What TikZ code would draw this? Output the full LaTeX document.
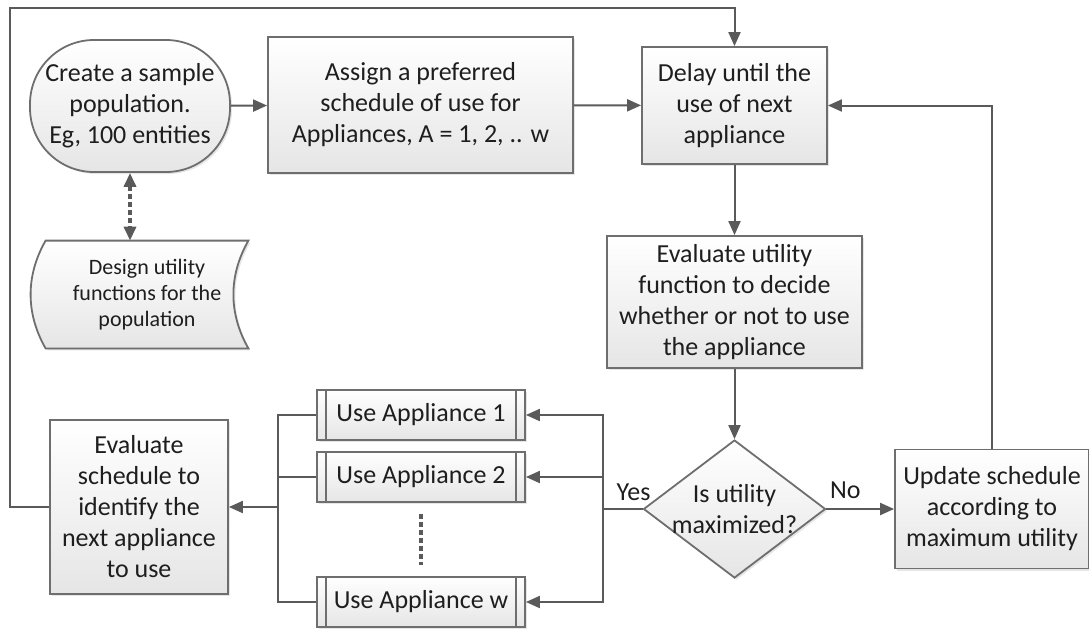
\documentclass[tikz,border=0pt]{standalone}
\usepackage{fontspec}
\setmainfont{Carlito}
\usetikzlibrary{arrows.meta,shapes.geometric,shadows,backgrounds}
\definecolor{boxgray}{HTML}{6E6E6E}
\definecolor{linegray}{HTML}{5A5A5A}
\definecolor{txtcol}{HTML}{1E1E1E}
\tikzset{
  box/.style={draw=boxgray, line width=0.9pt, top color=white, bottom color=gray!20,
    drop shadow={opacity=0.2,shadow xshift=1pt,shadow yshift=-1pt},
    align=center, inner sep=2pt, text=txtcol},
  conn/.style={draw=linegray, line width=1pt},
  arr/.style={conn, -{Triangle[length=7pt,width=6pt]}},
  dots/.style={draw=linegray, line width=1.7pt, dash pattern=on 2.5pt off 1.5pt},
  lbl/.style={inner sep=0pt, text=txtcol, anchor=base}
}
\begin{document}
\begin{tikzpicture}[x=0.5pt,y=-0.5pt,font=\fontsize{13}{15.5}\selectfont]
  \useasboundingbox (0,0) rectangle (1089,628);
  \node[box, rounded corners=32pt, minimum width=100pt, minimum height=66pt] (create) at (130,106)
    {Create a sample\\population.\\Eg, 100 entities};
  \node[box, minimum width=152.5pt, minimum height=68pt] (assign) at (420.5,105)
    {Assign a preferred\\schedule of use for\\Appliances, A = 1, 2, .. w};
  \node[box, minimum width=92.5pt, minimum height=58.5pt] (delay) at (734.5,105.5)
    {Delay until the\\use of next\\appliance};
  \node[box, minimum width=127.5pt, minimum height=66pt] (evalu) at (734.5,302)
    {Evaluate utility\\function to decide\\whether or not to use\\the appliance};
  \node[box, diamond, minimum width=91pt, minimum height=69pt, inner sep=0pt] (dec) at (734.5,509) {};
  \node[lbl, anchor=center, align=center] (dectxt) at (dec) {Is utility\\maximized?};
  \node[box, minimum width=97pt, minimum height=59.5pt, inner sep=0pt] (update) at (992,509)
    {Update schedule\\according to\\maximum utility};
  \node[box, minimum width=89pt, minimum height=87pt] (esched) at (139,507)
    {Evaluate\\schedule to\\identify the\\next appliance\\to use};
  \node[box, minimum width=104pt, minimum height=25pt] (app1) at (421,415) {Use Appliance 1};
  \node[box, minimum width=104pt, minimum height=25pt] (app2) at (421,477) {Use Appliance 2};
  \node[box, minimum width=104pt, minimum height=25pt] (appw) at (421,602) {Use Appliance w};
  \foreach \n in {app1,app2,appw}
    \draw[draw=boxgray, line width=0.9pt] ([xshift=5pt]\n.north west) -- ([xshift=5pt]\n.south west)
      ([xshift=-5pt]\n.north east) -- ([xshift=-5pt]\n.south east);
  \node[align=center, inner sep=0pt, text=txtcol, minimum width=101pt, minimum height=53.5pt,
    font=\fontsize{11}{13}\selectfont] (design) at (147,294.5)
    {Design utility\\functions for the\\population};
  \begin{scope}[on background layer]
    \draw[box] (design.north west) -- (design.north east)
      .. controls +(-20,35) and +(-20,-35) .. (design.south east) -- (design.south west)
      .. controls +(-20,-35) and +(-20,35) .. (design.north west) -- cycle;
  \end{scope}

  \coordinate (topl) at (10,8);
  \coordinate (ysplit) at (603,509);
  \coordinate (jn) at (278,507);

  \draw[arr] (create) -- (assign);
  \draw[arr] (assign) -- (delay);
  \draw[arr] (delay) -- (evalu);
  \draw[arr] (evalu) -- (dec);
  \draw[arr] (dec) -- (update);
  \draw[arr] (update.north) |- (delay.east);
  \draw[arr] (esched.west) -| (topl) -| (delay.north);
  \draw[dots, {Triangle[length=7pt,width=6pt]}-{Triangle[length=7pt,width=6pt]}]
    (create.south) -- (create.south |- design.north);
  \draw[conn] (dec.west) -- (ysplit);
  \foreach \n in {app1,app2,appw}
    \draw[arr] (ysplit) |- (\n.east);
  \foreach \n in {app1,app2,appw}
    \draw[conn] (\n.west) -| (jn);
  \draw[arr] (jn) -- (esched.east);
  \draw[dots] ([yshift=-5.5pt]app2.south) -- ([yshift=5.5pt]appw.north);
  \node[lbl] (yes) at ([xshift=-4.5pt,yshift=4.5pt]dec.west) {Yes};
  \node[lbl] (no) at ([xshift=9.5pt,yshift=5.5pt]dec.east) {No};
\end{tikzpicture}
\end{document}
